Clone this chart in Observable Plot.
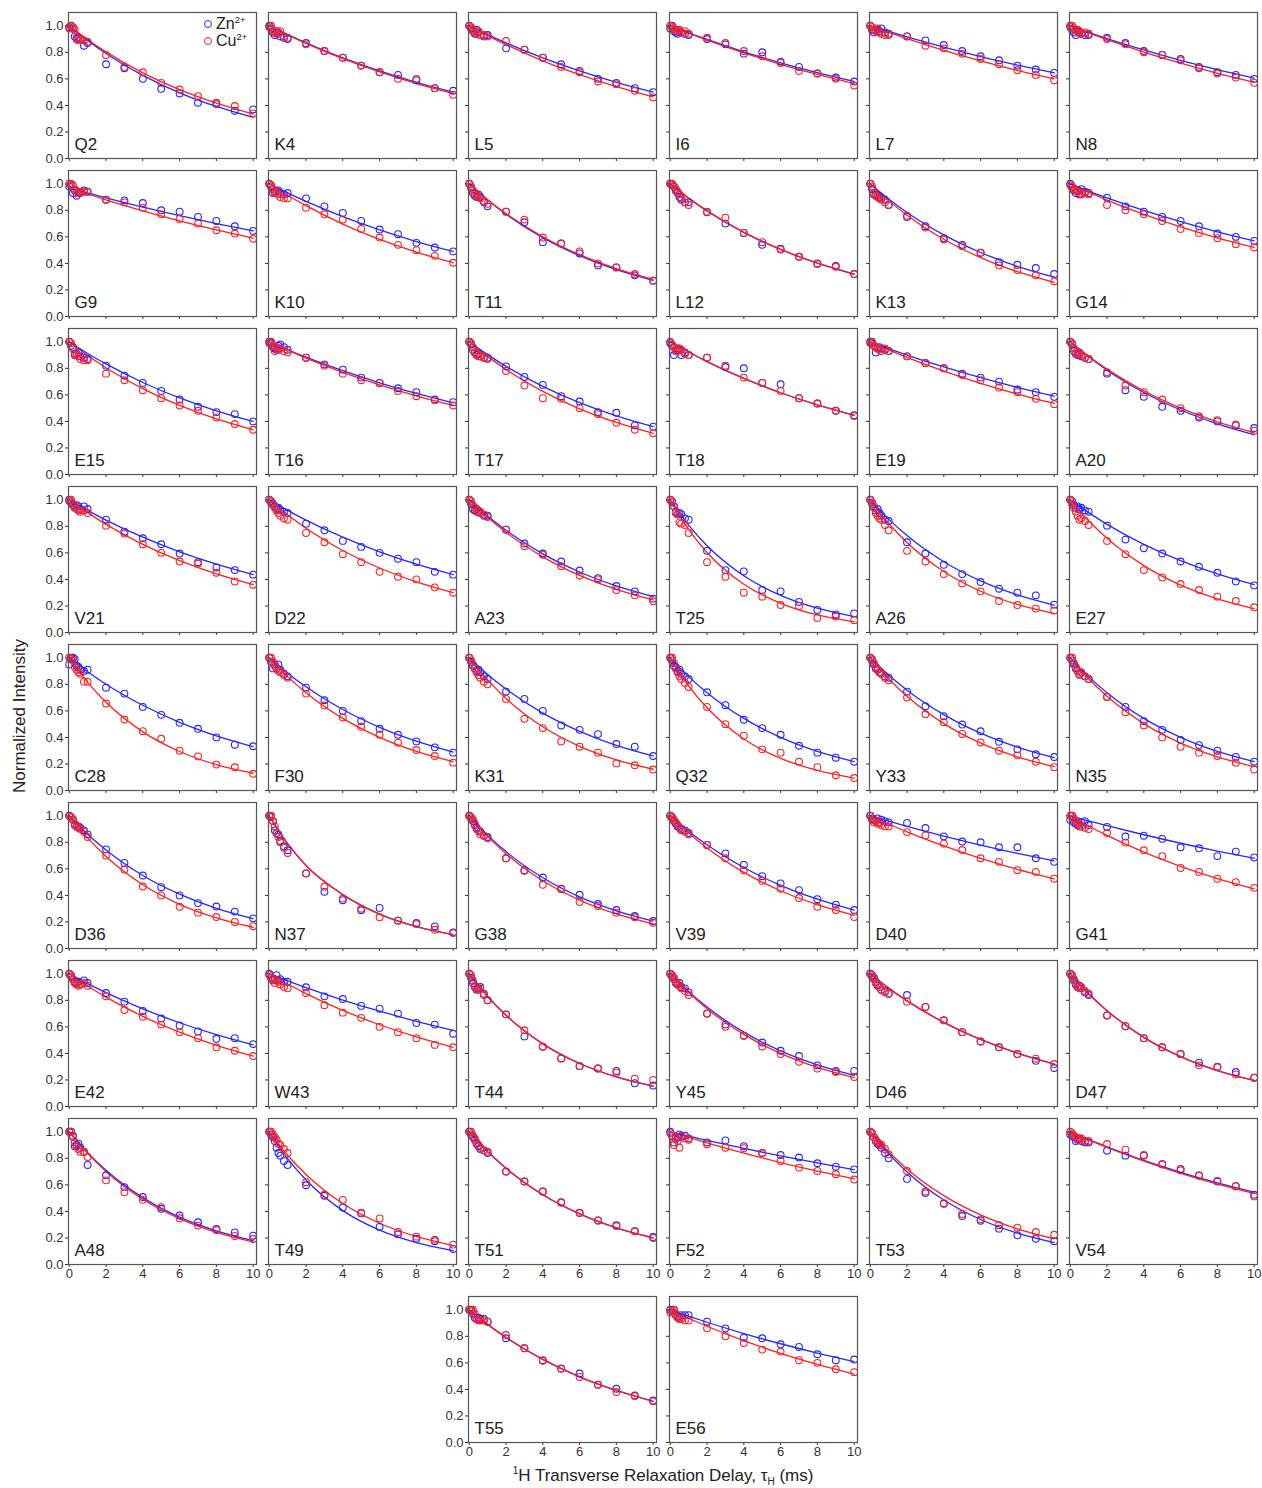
<!DOCTYPE html>
<html><head><meta charset="utf-8">
<script src="https://cdn.jsdelivr.net/npm/d3@7"></script>
<script src="https://cdn.jsdelivr.net/npm/@observablehq/plot@0.6"></script>
<style>
body{margin:0;background:#fff;font-family:"Liberation Sans",Arial,sans-serif;}
#chart{position:relative;width:1262px;height:1488px;background:#fff;}
#chart svg{position:absolute;overflow:visible;}
.legend{position:absolute;left:204px;top:15px;font-size:16px;color:#222;line-height:17px;}
.legend .c{display:inline-block;width:6px;height:6px;border:1.2px solid;border-radius:50%;margin-right:4px;vertical-align:1px;}
.legend sup{font-size:9.5px;vertical-align:6px;line-height:0;}
.ytitle{position:absolute;left:20px;top:716px;transform:translate(-50%,-50%) rotate(-90deg);font-size:17px;color:#222;white-space:nowrap;}
.xtitle{position:absolute;left:663px;top:1476px;transform:translate(-50%,-50%);font-size:17px;color:#222;white-space:nowrap;}
.xtitle sup{font-size:10px;vertical-align:7px;line-height:0;}
.xtitle sub{font-size:10px;vertical-align:-4px;line-height:0;}
</style></head><body>
<div id="chart"></div>
<script>
// ---------------- data ----------------
const residues = ["Q2","K4","L5","I6","L7","N8","G9","K10","T11","L12","K13","G14",
  "E15","T16","T17","T18","E19","A20","V21","D22","A23","T25","A26","E27",
  "C28","F30","K31","Q32","Y33","N35","D36","N37","G38","V39","D40","G41",
  "E42","W43","T44","Y45","D46","D47","A48","T49","T51","F52","T53","V54","T55","E56"];
const delays = [0,0.1,0.2,0.3,0.4,0.5,0.6,0.8,1,2,3,4,5,6,7,8,9,10];
const fitTimes = [0,1,2,4,6,8,10];
const xTicks = [0,2,4,6,8,10];
const yTicks = [0,0.2,0.4,0.6,0.8,1.0];

const znIntensity = [
[0.99,1.00,0.98,0.92,0.90,0.91,0.90,0.85,0.87,0.71,0.68,0.60,0.525,0.49,0.42,0.41,0.36,0.37],
[1.00,0.98,0.95,0.93,0.96,0.94,0.92,0.91,0.90,0.87,0.81,0.76,0.70,0.65,0.63,0.59,0.53,0.51],
[1.00,0.98,0.96,0.94,0.97,0.95,0.93,0.92,0.93,0.83,0.82,0.76,0.71,0.66,0.60,0.57,0.53,0.50],
[0.98,1.00,0.96,0.95,0.94,0.96,0.95,0.94,0.93,0.90,0.86,0.79,0.80,0.73,0.69,0.64,0.61,0.58],
[1.00,0.97,0.95,0.96,0.97,0.96,0.98,0.95,0.94,0.92,0.89,0.855,0.81,0.77,0.74,0.70,0.67,0.645],
[0.99,0.97,0.95,0.93,0.96,0.95,0.94,0.93,0.93,0.91,0.87,0.81,0.78,0.75,0.69,0.65,0.63,0.60],
[0.98,0.99,0.93,0.95,0.91,0.94,0.93,0.95,0.94,0.88,0.875,0.855,0.80,0.79,0.75,0.72,0.68,0.645],
[1.00,0.98,0.93,0.94,0.94,0.95,0.93,0.92,0.93,0.89,0.83,0.78,0.72,0.655,0.62,0.555,0.52,0.49],
[1.00,0.97,0.93,0.91,0.90,0.92,0.90,0.86,0.83,0.79,0.71,0.56,0.55,0.475,0.385,0.37,0.31,0.27],
[1.00,0.99,0.98,0.95,0.93,0.90,0.88,0.86,0.86,0.785,0.70,0.63,0.54,0.51,0.45,0.40,0.38,0.32],
[1.00,0.96,0.92,0.92,0.91,0.90,0.89,0.88,0.84,0.75,0.68,0.59,0.54,0.48,0.41,0.39,0.365,0.32],
[1.00,0.97,0.95,0.93,0.95,0.92,0.96,0.94,0.93,0.895,0.83,0.79,0.75,0.72,0.68,0.625,0.60,0.57],
[1.00,0.97,0.96,0.90,0.91,0.92,0.89,0.88,0.87,0.82,0.745,0.69,0.63,0.565,0.51,0.47,0.455,0.40],
[1.00,0.99,0.96,0.95,0.94,0.97,0.98,0.96,0.94,0.88,0.83,0.79,0.73,0.69,0.65,0.62,0.565,0.545],
[1.00,0.98,0.94,0.92,0.90,0.91,0.89,0.88,0.88,0.815,0.735,0.675,0.59,0.55,0.47,0.465,0.37,0.36],
[0.99,0.97,0.90,0.93,0.95,0.94,0.90,0.92,0.90,0.88,0.81,0.80,0.69,0.68,0.575,0.535,0.48,0.446],
[1.00,0.99,0.97,0.92,0.95,0.96,0.95,0.94,0.93,0.89,0.84,0.80,0.76,0.73,0.70,0.64,0.62,0.585],
[1.00,0.98,0.93,0.91,0.90,0.91,0.89,0.88,0.87,0.76,0.635,0.585,0.51,0.48,0.43,0.40,0.37,0.35],
[1.00,0.98,0.96,0.94,0.96,0.95,0.93,0.95,0.93,0.85,0.76,0.71,0.665,0.595,0.53,0.49,0.47,0.436],
[1.00,0.99,0.97,0.95,0.93,0.94,0.92,0.91,0.90,0.82,0.77,0.69,0.645,0.60,0.556,0.53,0.457,0.436],
[1.00,0.97,0.93,0.92,0.93,0.91,0.90,0.88,0.88,0.775,0.67,0.595,0.535,0.467,0.41,0.35,0.31,0.255],
[1.00,0.98,0.95,0.91,0.89,0.90,0.89,0.86,0.85,0.615,0.47,0.46,0.32,0.31,0.23,0.17,0.136,0.144],
[1.00,0.98,0.95,0.92,0.93,0.90,0.88,0.85,0.84,0.68,0.595,0.51,0.44,0.38,0.33,0.30,0.28,0.21],
[1.00,0.99,0.96,0.94,0.95,0.93,0.94,0.92,0.91,0.805,0.70,0.635,0.595,0.535,0.495,0.45,0.385,0.355],
[0.95,1.00,1.00,0.99,0.94,0.93,0.91,0.90,0.91,0.775,0.73,0.63,0.57,0.51,0.465,0.40,0.345,0.333],
[1.00,0.97,0.92,0.95,0.92,0.95,0.91,0.88,0.86,0.775,0.68,0.60,0.523,0.465,0.42,0.37,0.325,0.285],
[1.00,0.97,0.94,0.92,0.90,0.91,0.89,0.86,0.84,0.745,0.69,0.60,0.49,0.457,0.425,0.35,0.33,0.26],
[1.00,0.98,0.94,0.93,0.90,0.91,0.88,0.86,0.84,0.74,0.643,0.533,0.47,0.42,0.337,0.285,0.247,0.217],
[1.00,0.98,0.95,0.92,0.91,0.89,0.88,0.86,0.85,0.745,0.635,0.56,0.497,0.446,0.367,0.31,0.273,0.252],
[1.00,0.98,0.95,0.92,0.90,0.88,0.89,0.86,0.84,0.705,0.63,0.523,0.457,0.38,0.342,0.30,0.253,0.217],
[1.00,0.99,0.97,0.93,0.92,0.92,0.91,0.89,0.86,0.747,0.645,0.55,0.462,0.40,0.342,0.316,0.278,0.227],
[1.00,0.99,0.96,0.89,0.87,0.86,0.81,0.77,0.74,0.566,0.427,0.364,0.288,0.306,0.21,0.192,0.167,0.12],
[1.00,0.98,0.96,0.93,0.91,0.89,0.88,0.85,0.84,0.68,0.59,0.535,0.45,0.405,0.335,0.29,0.245,0.207],
[1.00,0.99,0.96,0.94,0.92,0.91,0.90,0.89,0.87,0.78,0.717,0.63,0.545,0.49,0.44,0.372,0.33,0.29],
[1.00,0.98,0.97,0.96,0.98,0.95,0.97,0.96,0.95,0.946,0.908,0.845,0.806,0.80,0.763,0.763,0.68,0.653],
[0.97,1.00,0.95,0.94,0.93,0.92,0.95,0.96,0.93,0.916,0.844,0.85,0.826,0.763,0.755,0.696,0.73,0.686],
[1.00,0.98,0.96,0.94,0.93,0.94,0.92,0.95,0.93,0.855,0.79,0.72,0.663,0.61,0.566,0.51,0.515,0.47],
[1.00,0.97,0.95,0.96,0.99,0.95,0.96,0.94,0.94,0.898,0.83,0.81,0.758,0.737,0.70,0.63,0.617,0.548],
[1.00,0.97,0.93,0.90,0.88,0.89,0.90,0.85,0.80,0.694,0.528,0.45,0.362,0.304,0.286,0.268,0.176,0.158],
[1.00,0.98,0.96,0.93,0.92,0.93,0.90,0.89,0.86,0.70,0.617,0.533,0.482,0.42,0.38,0.31,0.268,0.268],
[1.00,0.99,0.97,0.94,0.91,0.90,0.88,0.87,0.85,0.84,0.75,0.65,0.56,0.49,0.446,0.395,0.344,0.29],
[1.00,0.98,0.95,0.92,0.90,0.91,0.89,0.86,0.84,0.686,0.605,0.515,0.446,0.395,0.33,0.30,0.26,0.217],
[1.00,1.00,0.97,0.89,0.90,0.91,0.88,0.85,0.75,0.672,0.583,0.508,0.42,0.369,0.318,0.268,0.242,0.217],
[1.00,0.98,0.96,0.93,0.88,0.84,0.82,0.78,0.75,0.597,0.518,0.43,0.385,0.283,0.227,0.194,0.176,0.117],
[1.00,0.98,0.96,0.94,0.91,0.89,0.87,0.86,0.84,0.70,0.625,0.55,0.47,0.388,0.332,0.296,0.25,0.207],
[1.00,0.97,0.92,0.95,0.96,0.98,0.96,0.97,0.95,0.92,0.935,0.892,0.84,0.825,0.806,0.763,0.737,0.717],
[1.00,0.99,0.96,0.93,0.91,0.90,0.88,0.84,0.80,0.645,0.538,0.457,0.365,0.33,0.27,0.22,0.194,0.176],
[0.98,0.97,0.96,0.93,0.94,0.95,0.93,0.92,0.92,0.857,0.82,0.82,0.755,0.72,0.67,0.625,0.59,0.525],
[1.00,1.00,0.97,0.94,0.93,0.94,0.93,0.93,0.91,0.785,0.71,0.62,0.557,0.52,0.435,0.405,0.354,0.316],
[1.00,0.99,1.00,0.96,0.95,0.94,0.96,0.96,0.96,0.91,0.86,0.79,0.785,0.74,0.72,0.665,0.62,0.625]
];

const cuIntensity = [
[0.98,1.00,0.99,0.97,0.91,0.89,0.90,0.89,0.88,0.78,0.69,0.65,0.57,0.52,0.47,0.42,0.395,0.34],
[0.99,1.00,0.96,0.95,0.94,0.95,0.96,0.92,0.91,0.86,0.81,0.76,0.70,0.65,0.60,0.60,0.53,0.48],
[1.00,0.99,0.97,0.95,0.94,0.96,0.93,0.93,0.92,0.885,0.82,0.76,0.69,0.65,0.58,0.56,0.51,0.46],
[1.00,0.99,0.98,0.97,0.96,0.97,0.95,0.96,0.94,0.91,0.87,0.81,0.77,0.72,0.66,0.64,0.60,0.55],
[1.00,0.99,0.97,0.96,0.98,0.95,0.94,0.93,0.93,0.92,0.85,0.83,0.79,0.75,0.71,0.665,0.63,0.59],
[1.00,1.00,0.98,0.95,0.97,0.96,0.94,0.95,0.94,0.90,0.86,0.80,0.78,0.74,0.68,0.64,0.61,0.57],
[1.00,1.00,0.99,0.96,0.93,0.93,0.94,0.94,0.94,0.88,0.86,0.82,0.77,0.735,0.70,0.65,0.625,0.585],
[1.00,0.99,0.96,0.93,0.94,0.92,0.90,0.89,0.89,0.82,0.77,0.73,0.66,0.595,0.54,0.50,0.457,0.405],
[1.00,0.98,0.95,0.92,0.91,0.90,0.89,0.87,0.85,0.79,0.73,0.595,0.55,0.49,0.40,0.37,0.32,0.27],
[1.00,1.00,0.98,0.96,0.94,0.92,0.89,0.86,0.84,0.79,0.745,0.63,0.56,0.505,0.45,0.395,0.375,0.32],
[1.00,0.98,0.93,0.91,0.90,0.89,0.88,0.86,0.84,0.76,0.67,0.58,0.53,0.48,0.385,0.35,0.31,0.265],
[0.99,0.98,0.96,0.95,0.94,0.93,0.92,0.93,0.92,0.84,0.80,0.77,0.72,0.66,0.63,0.59,0.545,0.52],
[1.00,0.99,0.95,0.91,0.90,0.89,0.87,0.86,0.86,0.76,0.71,0.635,0.575,0.52,0.48,0.43,0.38,0.337],
[0.99,1.00,0.97,0.93,0.96,0.94,0.95,0.93,0.92,0.88,0.82,0.76,0.71,0.69,0.63,0.59,0.56,0.52],
[1.00,0.99,0.96,0.92,0.91,0.89,0.89,0.88,0.87,0.78,0.67,0.575,0.57,0.50,0.455,0.39,0.337,0.31],
[1.00,0.98,0.96,0.94,0.93,0.95,0.94,0.91,0.90,0.88,0.82,0.73,0.69,0.63,0.575,0.535,0.48,0.44],
[0.99,1.00,0.97,0.96,0.95,0.94,0.93,0.95,0.93,0.89,0.84,0.80,0.75,0.71,0.655,0.62,0.57,0.53],
[1.00,0.99,0.95,0.92,0.91,0.92,0.90,0.88,0.87,0.77,0.67,0.62,0.565,0.50,0.44,0.41,0.375,0.33],
[0.99,1.00,0.97,0.95,0.93,0.92,0.91,0.92,0.90,0.805,0.745,0.665,0.60,0.535,0.52,0.45,0.385,0.36],
[1.00,0.98,0.96,0.94,0.92,0.90,0.88,0.86,0.85,0.75,0.68,0.59,0.53,0.457,0.42,0.40,0.34,0.30],
[1.00,0.99,0.96,0.94,0.91,0.92,0.91,0.89,0.87,0.775,0.65,0.585,0.50,0.43,0.40,0.32,0.28,0.235],
[1.00,0.99,0.95,0.90,0.89,0.83,0.82,0.81,0.75,0.53,0.42,0.30,0.27,0.207,0.20,0.11,0.12,0.093],
[1.00,0.97,0.94,0.90,0.88,0.86,0.85,0.81,0.77,0.615,0.535,0.44,0.37,0.31,0.237,0.207,0.18,0.165],
[1.00,0.97,0.94,0.91,0.88,0.85,0.86,0.84,0.81,0.69,0.59,0.47,0.415,0.365,0.32,0.27,0.237,0.19],
[1.00,0.99,0.98,0.93,0.91,0.89,0.88,0.82,0.82,0.655,0.535,0.447,0.39,0.30,0.257,0.195,0.175,0.126],
[1.00,1.00,0.97,0.94,0.92,0.90,0.89,0.87,0.85,0.73,0.64,0.55,0.48,0.42,0.36,0.305,0.26,0.21],
[1.00,0.98,0.95,0.92,0.89,0.87,0.85,0.82,0.80,0.69,0.54,0.47,0.37,0.33,0.285,0.204,0.19,0.158],
[1.00,1.00,0.96,0.92,0.89,0.86,0.84,0.81,0.78,0.63,0.50,0.413,0.31,0.285,0.217,0.176,0.115,0.094],
[1.00,0.99,0.96,0.93,0.91,0.89,0.88,0.85,0.83,0.70,0.574,0.515,0.426,0.362,0.30,0.265,0.217,0.176],
[1.00,1.00,0.96,0.93,0.90,0.87,0.89,0.86,0.84,0.705,0.59,0.49,0.40,0.33,0.285,0.26,0.21,0.158],
[1.00,0.99,0.97,0.94,0.92,0.91,0.90,0.88,0.84,0.70,0.595,0.467,0.40,0.314,0.27,0.237,0.20,0.168],
[1.00,1.00,0.96,0.92,0.87,0.84,0.80,0.76,0.72,0.566,0.465,0.376,0.30,0.235,0.21,0.184,0.141,0.116],
[1.00,0.99,0.97,0.94,0.90,0.89,0.86,0.85,0.83,0.68,0.585,0.48,0.447,0.35,0.32,0.27,0.235,0.194],
[1.00,0.98,0.97,0.95,0.93,0.91,0.89,0.88,0.86,0.78,0.68,0.59,0.51,0.45,0.38,0.314,0.29,0.237],
[1.00,0.97,0.95,0.96,0.94,0.95,0.93,0.92,0.92,0.877,0.852,0.79,0.742,0.68,0.653,0.59,0.577,0.526],
[1.00,1.00,0.98,0.96,0.93,0.94,0.92,0.91,0.90,0.87,0.798,0.74,0.696,0.607,0.577,0.526,0.50,0.457],
[1.00,0.99,0.96,0.93,0.92,0.91,0.92,0.93,0.91,0.83,0.727,0.676,0.617,0.56,0.515,0.446,0.42,0.38],
[0.99,0.97,0.96,0.93,0.95,0.94,0.92,0.90,0.89,0.855,0.763,0.707,0.668,0.60,0.56,0.515,0.464,0.446],
[1.00,0.99,0.95,0.91,0.89,0.88,0.89,0.84,0.80,0.694,0.574,0.45,0.362,0.304,0.286,0.255,0.21,0.20],
[1.00,0.99,0.97,0.94,0.92,0.91,0.89,0.87,0.84,0.70,0.60,0.533,0.452,0.395,0.337,0.286,0.26,0.222],
[1.00,0.98,0.96,0.93,0.92,0.90,0.88,0.86,0.85,0.79,0.75,0.65,0.56,0.49,0.446,0.395,0.36,0.32],
[1.00,0.99,0.96,0.93,0.90,0.89,0.90,0.87,0.85,0.686,0.605,0.515,0.446,0.395,0.31,0.295,0.242,0.217],
[1.00,1.00,0.96,0.92,0.89,0.87,0.85,0.85,0.81,0.634,0.545,0.487,0.432,0.348,0.293,0.26,0.215,0.192],
[1.00,1.00,0.98,0.96,0.94,0.91,0.90,0.87,0.84,0.62,0.525,0.487,0.39,0.347,0.245,0.21,0.186,0.15],
[1.00,1.00,0.97,0.95,0.92,0.90,0.88,0.86,0.85,0.70,0.625,0.55,0.465,0.39,0.332,0.29,0.25,0.20],
[0.99,0.97,0.90,0.96,0.93,0.88,0.97,0.95,0.94,0.906,0.88,0.877,0.84,0.78,0.73,0.705,0.68,0.64],
[1.00,0.99,0.96,0.94,0.92,0.91,0.90,0.87,0.83,0.704,0.55,0.462,0.38,0.34,0.296,0.278,0.245,0.224],
[1.00,0.99,0.97,0.96,0.95,0.94,0.95,0.93,0.93,0.908,0.865,0.825,0.755,0.71,0.67,0.63,0.59,0.513],
[1.00,0.99,1.00,0.97,0.93,0.92,0.92,0.92,0.91,0.81,0.71,0.615,0.555,0.494,0.435,0.38,0.35,0.31],
[0.98,0.99,1.00,0.97,0.94,0.93,0.93,0.92,0.92,0.86,0.80,0.75,0.70,0.685,0.62,0.60,0.552,0.53]
];

// fitted decay curves, read at fitTimes
const znFit = [
[1,0.890,0.791,0.626,0.495,0.392,0.31],[1,0.933,0.871,0.758,0.660,0.574,0.50],[1,0.933,0.871,0.758,0.660,0.574,0.50],
[1,0.947,0.897,0.804,0.721,0.647,0.58],[1,0.957,0.916,0.839,0.768,0.704,0.645],[1,0.951,0.904,0.818,0.739,0.669,0.605],
[0.97,0.931,0.894,0.824,0.760,0.700,0.645],[1,0.931,0.867,0.752,0.652,0.565,0.49],[1,0.878,0.771,0.594,0.458,0.353,0.272],
[1,0.892,0.796,0.634,0.505,0.402,0.32],[1,0.885,0.784,0.615,0.482,0.378,0.296],[1,0.945,0.894,0.799,0.714,0.638,0.57],
[1,0.912,0.833,0.693,0.577,0.480,0.40],[1,0.940,0.884,0.782,0.691,0.611,0.54],[1,0.903,0.815,0.664,0.541,0.441,0.36],
[1,0.923,0.851,0.724,0.616,0.524,0.446],[1,0.949,0.900,0.810,0.729,0.656,0.59],[1,0.887,0.786,0.618,0.486,0.382,0.30],
[1,0.920,0.847,0.718,0.608,0.515,0.436],[1,0.920,0.847,0.718,0.608,0.515,0.436],[1,0.877,0.770,0.592,0.456,0.351,0.27],
[1,0.809,0.654,0.428,0.280,0.183,0.12],[1,0.854,0.730,0.533,0.389,0.284,0.207],[1,0.903,0.815,0.664,0.541,0.441,0.36],
[1,0.895,0.801,0.642,0.514,0.412,0.33],[1,0.884,0.781,0.610,0.476,0.372,0.29],[1,0.874,0.764,0.583,0.446,0.340,0.26],
[1,0.858,0.737,0.543,0.400,0.294,0.217],[1,0.870,0.756,0.572,0.432,0.327,0.247],[1,0.858,0.737,0.543,0.400,0.294,0.217],
[1,0.861,0.742,0.550,0.409,0.303,0.225],[1,0.79,0.625,0.406,0.259,0.165,0.105],[1,0.854,0.730,0.533,0.389,0.284,0.207],
[1,0.884,0.781,0.610,0.476,0.372,0.29],[1,0.959,0.920,0.847,0.779,0.717,0.66],[1,0.962,0.926,0.857,0.793,0.734,0.68],
[1,0.926,0.858,0.736,0.631,0.541,0.464],[1,0.946,0.895,0.802,0.718,0.642,0.574],[1,0.829,0.687,0.472,0.324,0.223,0.153],
[1,0.865,0.749,0.560,0.419,0.314,0.235],[1,0.892,0.796,0.634,0.505,0.402,0.32],[1,0.850,0.722,0.521,0.376,0.271,0.196],
[1,0.842,0.710,0.504,0.357,0.254,0.18],[1,0.798,0.637,0.406,0.259,0.165,0.105],[1,0.851,0.725,0.525,0.381,0.276,0.20],
[1,0.967,0.935,0.875,0.818,0.765,0.715],[1,0.835,0.697,0.486,0.339,0.236,0.165],[0.99,0.941,0.886,0.784,0.695,0.615,0.545],
[1,0.890,0.791,0.626,0.495,0.392,0.31],[1,0.952,0.906,0.821,0.744,0.674,0.61]
];
const cuFit = [
[1,0.896,0.803,0.645,0.519,0.417,0.335],[1,0.931,0.867,0.752,0.652,0.565,0.49],[1,0.926,0.858,0.736,0.632,0.542,0.465],
[1,0.944,0.892,0.796,0.710,0.633,0.565],[1,0.950,0.903,0.815,0.736,0.664,0.60],[1,0.946,0.895,0.802,0.718,0.642,0.575],
[0.97,0.923,0.878,0.795,0.720,0.652,0.59],[1,0.914,0.835,0.696,0.581,0.485,0.405],[1,0.880,0.775,0.601,0.466,0.361,0.28],
[1,0.892,0.796,0.634,0.505,0.402,0.318],[1,0.873,0.763,0.582,0.444,0.338,0.258],[1,0.937,0.877,0.770,0.676,0.593,0.52],
[1,0.897,0.804,0.647,0.521,0.419,0.337],[1,0.937,0.877,0.770,0.676,0.593,0.52],[1,0.890,0.791,0.626,0.495,0.392,0.31],
[1,0.923,0.851,0.724,0.616,0.524,0.446],[1,0.939,0.882,0.779,0.687,0.606,0.535],[1,0.891,0.794,0.630,0.500,0.397,0.315],
[1,0.903,0.815,0.664,0.541,0.441,0.36],[1,0.887,0.786,0.618,0.486,0.382,0.30],[1,0.869,0.755,0.570,0.430,0.325,0.245],
[1,0.777,0.603,0.364,0.220,0.132,0.08],[1,0.823,0.678,0.459,0.311,0.211,0.143],[1,0.842,0.710,0.504,0.357,0.254,0.18],
[1,0.815,0.665,0.442,0.294,0.195,0.13],[1,0.858,0.737,0.543,0.400,0.294,0.217],[1,0.833,0.693,0.480,0.333,0.231,0.16],
[1,0.789,0.623,0.388,0.242,0.151,0.094],[1,0.842,0.710,0.504,0.357,0.254,0.18],[1,0.842,0.710,0.504,0.357,0.254,0.18],
[1,0.833,0.693,0.480,0.333,0.231,0.16],[1,0.79,0.625,0.406,0.259,0.165,0.105],[1,0.845,0.714,0.510,0.365,0.260,0.186],
[1,0.871,0.758,0.574,0.435,0.330,0.25],[1,0.938,0.879,0.773,0.679,0.597,0.525],[1,0.923,0.852,0.726,0.619,0.527,0.45],
[1,0.908,0.824,0.679,0.560,0.461,0.38],[1,0.923,0.851,0.724,0.616,0.524,0.446],[1,0.829,0.687,0.472,0.324,0.223,0.153],
[1,0.858,0.737,0.543,0.400,0.294,0.217],[1,0.892,0.796,0.634,0.505,0.402,0.32],[1,0.850,0.722,0.521,0.376,0.271,0.196],
[1,0.838,0.701,0.492,0.345,0.242,0.17],[1,0.823,0.678,0.459,0.311,0.211,0.143],[1,0.851,0.725,0.525,0.381,0.276,0.20],
[1,0.957,0.916,0.839,0.768,0.704,0.645],[1,0.849,0.720,0.519,0.374,0.269,0.194],[1,0.939,0.882,0.779,0.687,0.606,0.535],
[1,0.890,0.791,0.626,0.495,0.392,0.31],[1,0.936,0.876,0.767,0.671,0.588,0.515]
];

// ---------------- drawing ----------------
const ZN = "#2727ff", CU = "#ff2020";
const chart = document.getElementById("chart");
const ML = 36, MR = 3, MT = 2, MB = 20, FW = 188, FH = 146;
const FONT = "'Liberation Sans', Arial, sans-serif";

residues.forEach((name, i) => {
  let row, col;
  if (i < 48) { row = Math.floor(i / 6); col = i % 6; }
  else { row = 8; col = i - 46; }
  const frameLeft = 68 + col * 200.2;
  const frameTop = row < 8 ? 12 + row * 158 : 1296;
  const showY = col === 0 || i === 48;
  const showX = row >= 7;

  const znPts = delays.map((t, k) => ({t, v: znIntensity[i][k]}));
  const cuPts = delays.map((t, k) => ({t, v: cuIntensity[i][k]}));
  const znLine = fitTimes.map((t, k) => ({t, v: znFit[i][k]}));
  const cuLine = fitTimes.map((t, k) => ({t, v: cuFit[i][k]}));

  const svg = Plot.plot({
    width: ML + FW + MR, height: MT + FH + MB,
    marginLeft: ML, marginRight: MR, marginTop: MT, marginBottom: MB,
    x: {domain: [-0.04, 10.18]},
    y: {domain: [0, 1.1]},
    style: {background: "none", fontFamily: FONT, fontSize: "13px", color: "#333", overflow: "visible"},
    marks: [
      Plot.axisY({ticks: yTicks, tickSize: 3, tickPadding: 2, label: null,
        tickFormat: showY ? (d => d.toFixed(1)) : (() => "")}),
      Plot.axisX({ticks: xTicks, tickSize: 3, tickPadding: 1, label: null,
        tickFormat: showX ? (d => String(d)) : (() => "")}),
      Plot.line(znLine, {x: "t", y: "v", stroke: ZN, strokeWidth: 1.3, curve: "monotone-x"}),
      Plot.line(cuLine, {x: "t", y: "v", stroke: CU, strokeWidth: 1.3, curve: "monotone-x"}),
      Plot.dot(znPts, {x: "t", y: "v", r: 3.4, stroke: ZN, strokeWidth: 1.1, fill: "none"}),
      Plot.dot(cuPts, {x: "t", y: "v", r: 3.4, stroke: CU, strokeWidth: 1.1, fill: "none"}),
      Plot.frame({stroke: "#555", strokeWidth: 1.2}),
      Plot.text([name], {text: d => d, frameAnchor: "bottom-left", textAnchor: "start",
        lineAnchor: "bottom", dx: 6, dy: -9, fontSize: 17, fill: "#222"})
    ]
  });
  svg.style.left = (frameLeft - ML) + "px";
  svg.style.top = (frameTop - MT) + "px";
  chart.appendChild(svg);
});

// legend (inside Q2 panel)
const legend = document.createElement("div");
legend.className = "legend";
legend.innerHTML =
  `<div><span class="c" style="border-color:${ZN}"></span>Zn<sup>2+</sup></div>` +
  `<div><span class="c" style="border-color:${CU}"></span>Cu<sup>2+</sup></div>`;
chart.appendChild(legend);

// axis titles
const yt = document.createElement("div");
yt.className = "ytitle";
yt.textContent = "Normalized Intensity";
chart.appendChild(yt);
const xt = document.createElement("div");
xt.className = "xtitle";
xt.innerHTML = "<sup>1</sup>H Transverse Relaxation Delay, τ<sub>H</sub> (ms)";
chart.appendChild(xt);
</script>
</body></html>
